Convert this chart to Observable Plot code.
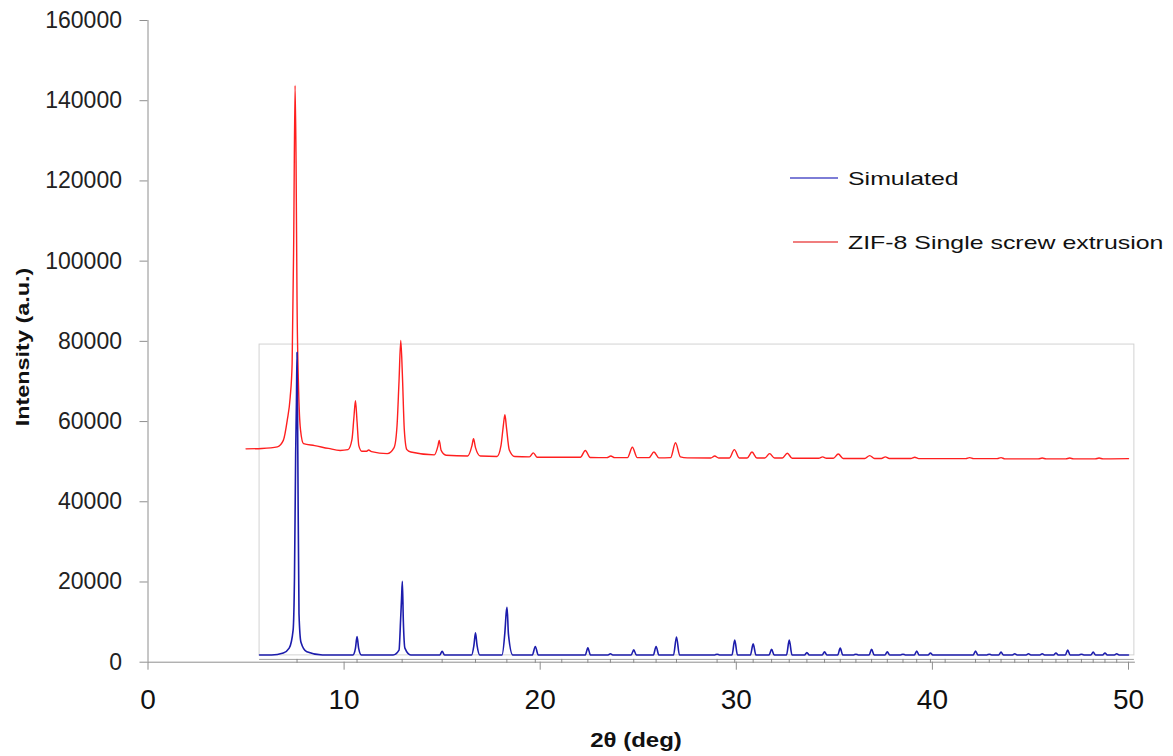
<!DOCTYPE html>
<html>
<head>
<meta charset="utf-8">
<script src="https://cdn.jsdelivr.net/npm/d3@7"></script>
<script src="https://cdn.jsdelivr.net/npm/@observablehq/plot@0.6"></script>
<style>
  body { margin: 0; background: #fff; }
  #wrap { position: relative; width: 1173px; height: 756px; font-family: "Liberation Sans", Arial, sans-serif; color: #111; }
  .lbl { position: absolute; white-space: nowrap; }
  .leg-line { position: absolute; height: 1.5px; }
</style>
</head>
<body>
<div id="wrap">
  <div id="chart"></div>
</div>
<script>
// ---- axis ticks ----
const xTicks = [0, 10, 20, 30, 40, 50];
const yTicks = [0, 20000, 40000, 60000, 80000, 100000, 120000, 140000, 160000];

// ---- series names ----
const seriesNames = ["Simulated", "ZIF-8 Single screw extrusion"];
const seriesColors = ["#1c1cac", "#ff1f1f"];

// ---- Simulated pattern (2θ, intensity) ----
const simulatedPts = [
  [5.69,1800],[6.3,1800],[6.9,2300],[7.2,3500],[7.4,8000],[7.47,21200],[7.53,52000],[7.57,64800],[7.6,77300],[7.64,52000],[7.7,12100],[7.8,5000],[8.1,2600],[8.9,1800],
  [10.45,1800],[10.58,3500],[10.66,6400],[10.74,3500],[10.88,1800],
  [12.5,1800],[12.8,3000],[12.88,10400],[12.93,15900],[12.97,20200],[13.02,10400],[13.1,3500],[13.4,1800],
  [14.88,1800],[15.0,2700],[15.12,1800],
  [16.5,1800],[16.62,4200],[16.7,7300],[16.78,4200],[16.92,1800],
  [18.05,1800],[18.2,7500],[18.27,12500],[18.31,13700],[18.38,7000],[18.6,1800],
  [19.6,1800],[19.75,3900],[19.9,1800],
  [22.3,1800],[22.43,3600],[22.56,1800],
  [23.46,1800],[23.58,2100],[23.7,1800],
  [24.64,1800],[24.77,3100],[24.9,1800],
  [25.77,1800],[25.91,3900],[26.05,1800],
  [26.8,1800],[26.95,6300],[27.1,1800],
  [28.9,1800],[29.02,2000],[29.14,1800],
  [29.78,1800],[29.92,5500],[30.06,1800],
  [30.72,1800],[30.86,4600],[31.0,1800],
  [31.67,1800],[31.8,3200],[31.93,1800],
  [32.56,1800],[32.7,5500],[32.84,1800],
  [33.48,1800],[33.6,2400],[33.72,1800],
  [34.38,1800],[34.5,2600],[34.62,1800],
  [35.17,1800],[35.3,3500],[35.43,1800],
  [35.98,1800],[36.1,2000],[36.22,1800],
  [36.77,1800],[36.9,3200],[37.03,1800],
  [37.58,1800],[37.7,2600],[37.82,1800],
  [38.38,1800],[38.5,2000],[38.62,1800],
  [39.08,1800],[39.2,2800],[39.32,1800],
  [39.78,1800],[39.9,2300],[40.02,1800],
  [42.08,1800],[42.2,2800],[42.32,1800],
  [42.78,1800],[42.9,2000],[43.02,1800],
  [43.38,1800],[43.5,2500],[43.62,1800],
  [44.08,1800],[44.2,2100],[44.32,1800],
  [44.78,1800],[44.9,2100],[45.02,1800],
  [45.48,1800],[45.6,2100],[45.72,1800],
  [46.18,1800],[46.3,2300],[46.42,1800],
  [46.78,1800],[46.9,3000],[47.02,1800],
  [47.48,1800],[47.6,2000],[47.72,1800],
  [48.08,1800],[48.2,2500],[48.32,1800],
  [48.68,1800],[48.8,2300],[48.92,1800],
  [49.28,1800],[49.4,2100],[49.52,1800],
  [50.0,1800]
];

// ---- ZIF-8 single screw extrusion pattern (2θ, intensity) ----
const zifPts = [
  [5.0,53200],[5.8,53300],[6.6,53700],[6.9,55300],[7.1,60300],[7.25,66000],[7.35,74500],[7.43,105000],[7.5,143800],[7.55,125000],[7.6,90000],[7.68,68000],[7.78,57800],[7.93,54500],
  [8.5,54000],[9.2,53300],[9.8,52800],[10.2,53000],[10.4,55500],[10.5,61000],[10.58,65200],[10.66,60000],[10.75,54000],[10.9,52600],
  [11.15,52600],[11.25,52900],[11.4,52500],[12.2,52000],[12.55,53500],[12.7,59000],[12.8,70000],[12.89,80200],[12.97,72000],[13.07,58000],[13.2,53000],[13.4,52400],
  [14.6,51700],[14.78,53800],[14.85,55300],[14.95,52800],[15.2,51600],
  [16.3,51400],[16.52,54000],[16.6,55700],[16.7,53500],[16.95,51400],
  [17.8,51300],[18.0,54000],[18.12,59000],[18.2,61700],[18.28,58500],[18.42,53000],[18.7,51300],
  [19.45,51200],[19.65,52200],[19.85,51100],
  [22.05,51100],[22.3,52800],[22.55,51050],
  [23.4,51000],[23.6,51400],[23.8,51000],
  [24.45,51000],[24.7,53600],[24.95,51000],
  [25.55,51000],[25.8,52400],[26.05,50950],
  [26.65,51000],[26.9,54700],[27.15,51200],[27.5,50950],
  [28.7,50900],[28.9,51400],[29.1,50900],
  [29.65,50900],[29.9,53000],[30.15,50900],
  [30.55,50900],[30.8,52400],[31.05,50900],
  [31.45,50900],[31.7,52000],[31.95,50900],
  [32.35,50900],[32.6,52100],[32.85,50850],
  [34.2,50850],[34.4,51200],[34.6,50850],
  [34.95,50850],[35.2,51900],[35.45,50800],
  [36.55,50800],[36.8,51500],[37.05,50800],
  [37.4,50800],[37.6,51200],[37.8,50800],
  [38.9,50800],[39.1,51100],[39.3,50750],
  [41.7,50750],[41.9,51000],[42.1,50750],
  [43.3,50750],[43.5,51000],[43.7,50700],
  [45.4,50700],[45.6,50900],[45.8,50700],
  [46.8,50700],[47.0,50900],[47.2,50700],
  [48.3,50700],[48.5,50900],[48.7,50700],
  [50.0,50750]
];

// ---- reference reflection markers under the inset axis ----
const reflX = [7.6,10.66,12.96,15.0,16.7,18.3,19.75,21.1,22.43,23.58,24.77,25.91,26.95,29.02,29.92,30.86,31.8,32.7,33.6,34.5,35.3,36.1,36.9,37.7,38.5,39.2,39.9,40.65,42.2,42.9,43.5,44.2,44.9,45.6,46.3,46.9,47.6,48.2,48.8,49.4];

// ---- inset frame (leftover plot-area box) ----
const insetBox = [{x1: 5.69, x2: 50.3, y1: 1700, y2: 79200}];
const insetAxis = [{y: 700, x1: 5.69, x2: 50.3, tickEnd: -300}];

const simData = simulatedPts.map(([x, y]) => ({x, y}));
const zifData = zifPts.map(([x, y]) => ({x, y}));

const axisGray = "#8e8e8e";

const chart = Plot.plot({
  width: 1173,
  height: 756,
  marginLeft: 147.5,
  marginRight: 45,
  marginTop: 20,
  marginBottom: 94.3,
  style: {fontFamily: '"Liberation Sans", Arial, sans-serif', background: "#fff", color: "#111"},
  x: {domain: [0, 50], label: null},
  y: {domain: [0, 160000], label: null},
  marks: [
    Plot.rect(insetBox, {x1: "x1", x2: "x2", y1: "y1", y2: "y2", stroke: "#d2d2d2", fill: "none"}),
    Plot.ruleY(insetAxis, {y: "y", x1: "x1", x2: "x2", stroke: "#a0a0a0"}),
    Plot.ruleX(reflX, {x: d => d, y1: insetAxis[0].y, y2: insetAxis[0].tickEnd, stroke: "#8a8a8a"}),
    Plot.ruleX([0], {y1: 0, y2: 160000, stroke: axisGray}),
    Plot.ruleY([0], {x1: 0, x2: 50.35, stroke: axisGray}),
    Plot.axisX({ticks: xTicks, tickSize: 8, tickPadding: 19, fontSize: 28, tickFormat: d => String(d), label: null, stroke: axisGray, fill: "#111"}),
    Plot.axisY({ticks: yTicks, tickSize: 8, tickPadding: 18, fontSize: 23, tickFormat: d => String(d), label: null, stroke: axisGray, fill: "#222"}),
    Plot.line(zifData, {x: "x", y: "y", stroke: seriesColors[1], strokeWidth: 1.4, curve: "monotone-x"}),
    Plot.line(simData, {x: "x", y: "y", stroke: seriesColors[0], strokeWidth: 1.6, curve: "monotone-x"})
  ]
});
document.getElementById("chart").appendChild(chart);

// ---- overlay texts: axis titles and legend ----
const wrap = document.getElementById("wrap");
function addLabel(text, css) {
  const d = document.createElement("div");
  d.className = "lbl";
  d.textContent = text;
  Object.assign(d.style, css);
  wrap.appendChild(d);
  return d;
}
function addLine(css) {
  const d = document.createElement("div");
  d.className = "leg-line";
  Object.assign(d.style, css);
  wrap.appendChild(d);
}
// x title
addLabel("2θ (deg)", {left: "636px", top: "740px", fontSize: "20px", fontWeight: "bold",
  transform: "translate(-50%, -50%) scaleX(1.2)", lineHeight: "1"});
// y title
addLabel("Intensity (a.u.)", {left: "22px", top: "347px", fontSize: "19px", fontWeight: "bold",
  transform: "translate(-50%, -50%) rotate(-90deg) scaleX(1.23)", lineHeight: "1"});
// legend
const legendLineColors = ["#7d7dd6", "#f07e7e"];
const legendTops = [178, 242];
const legendLineLeft = [790, 793];
seriesNames.forEach((name, i) => {
  addLine({left: legendLineLeft[i] + "px", top: (legendTops[i] - 1) + "px", width: (838 - legendLineLeft[i]) + "px",
    background: legendLineColors[i]});
  addLabel(name, {left: "848px", top: legendTops[i] + "px", fontSize: "19px", lineHeight: "1",
    transform: "translateY(-50%) scaleX(1.31)", transformOrigin: "left center"});
});
</script>
</body>
</html>
